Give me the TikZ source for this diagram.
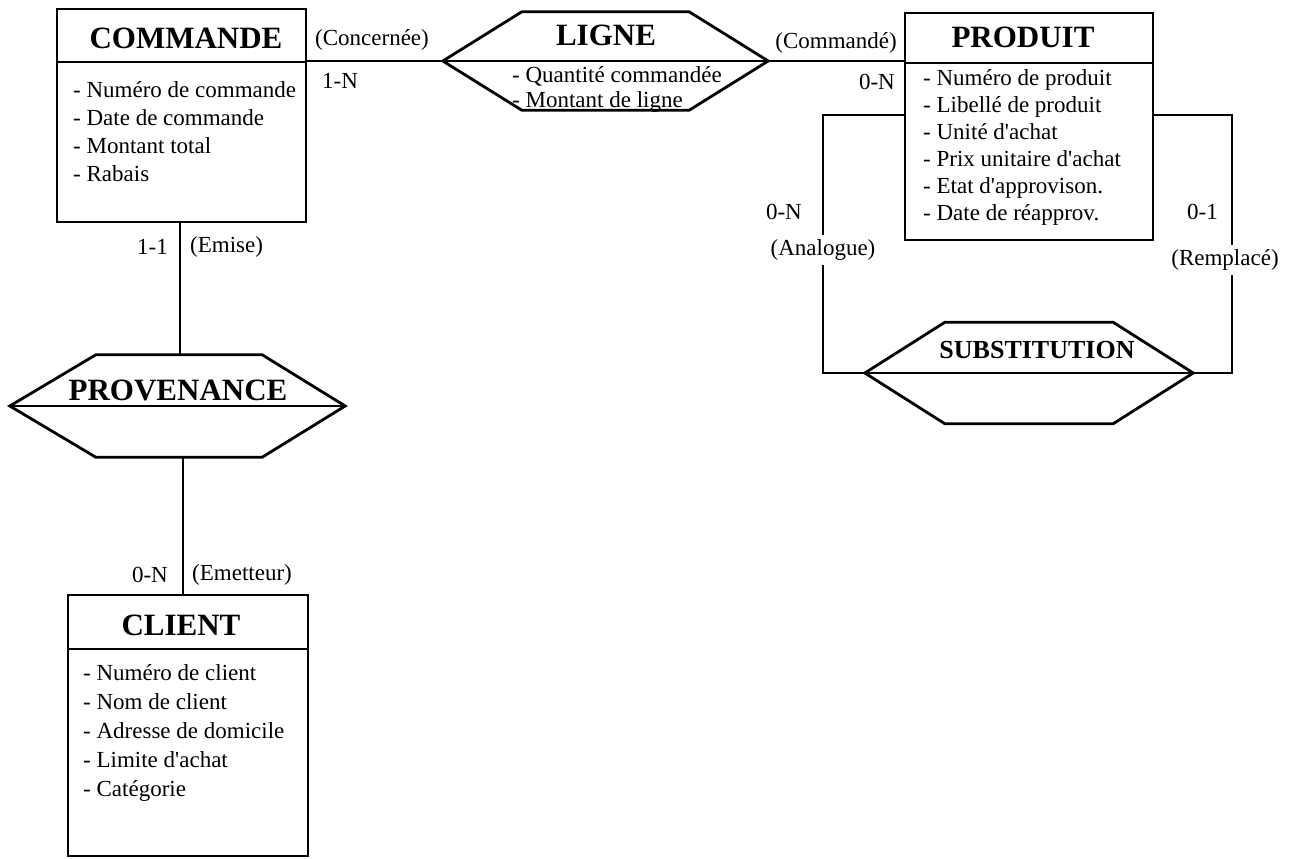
\documentclass[tikz,border=0pt]{standalone}
\usepackage{fontspec}
\setmainfont{Liberation Serif}
\newcommand{\ap}{\textquotesingle}
\begin{document}
\begin{tikzpicture}[x=1pt,y=-1pt,
  entity/.style={draw, line width=2.8pt, inner sep=0pt},
  relbox/.style={draw=none, inner sep=0pt},
  hexline/.style={line width=2.8pt, line join=miter},
  sepline/.style={line width=2.6pt},
  conn/.style={line width=2.4pt},
  title/.style={font=\fontsize{31}{36}\selectfont\bfseries, inner sep=0pt},
  subtitle/.style={font=\fontsize{26}{30}\selectfont\bfseries, inner sep=0pt},
  attr/.style={font=\fontsize{23}{27}\selectfont, inner sep=0pt, anchor=base west},
  lbl/.style={font=\fontsize{23}{27}\selectfont, inner sep=0pt},
  gaplbl/.style={font=\fontsize{23}{27}\selectfont, fill=white, inner xsep=1pt, inner ysep=5pt},
]
\fill[white] (0,0) rectangle (1298,859);
\useasboundingbox (0,0) rectangle (1298,859);

% ---------- entities ----------
\node[entity, minimum width=249pt, minimum height=213pt] (commande) at (181.5,115.5) {};
\node[entity, minimum width=248pt, minimum height=227pt] (produit) at (1029,126.5) {};
\node[entity, minimum width=240pt, minimum height=261pt] (client) at (188,725.5) {};

\coordinate (cmdsep) at (0,62);
\coordinate (prdsep) at (0,63);
\coordinate (clisep) at (0,649);
\draw[sepline] (commande.west |- cmdsep) -- (commande.east |- cmdsep);
\draw[sepline] (produit.west |- prdsep) -- (produit.east |- prdsep);
\draw[sepline] (client.west |- clisep) -- (client.east |- clisep);

\node[title] (commande-t) at (186,38) {COMMANDE};
\node[title] (produit-t) at (1023,37) {PRODUIT};
\node[title] (client-t) at (181,625) {CLIENT};

\foreach \t [count=\i] in {- Numéro de commande, - Date de commande, - Montant total, - Rabais}
  \node[attr] (commande-a\i) at (73,{97+28.3*(\i-1)}) {\t};
\foreach \t [count=\i] in {- Numéro de produit, - Libellé de produit, - Unité d\ap achat,
    - Prix unitaire d\ap achat, - Etat d\ap approvison., - Date de réapprov.}
  \node[attr] (produit-a\i) at (923,{85+27*(\i-1)}) {\t};
\foreach \t [count=\i] in {- Numéro de client, - Nom de client, - Adresse de domicile,
    - Limite d\ap achat, - Catégorie}
  \node[attr] (client-a\i) at (83,{680+29*(\i-1)}) {\t};

% ---------- relationships (hexagons) ----------
\node[relbox, minimum width=325pt, minimum height=98pt] (ligne) at (605.5,61) {};
\node[relbox, minimum width=328pt, minimum height=101pt] (subst) at (1029,373) {};
\node[relbox, minimum width=335pt, minimum height=102pt] (prov) at (177.5,406) {};

% connectors
\draw[conn] (commande.east |- ligne.west) -- (ligne.west);
\draw[conn] (ligne.east) -- (produit.west |- ligne.east);

\coordinate (emitx) at (180,0);
\coordinate (emetx) at (183,0);
\draw[conn] (commande.south -| emitx) -- (prov.north -| emitx);
\draw[conn] (prov.south -| emetx) -- (client.north -| emetx);

\coordinate (loopL) at (823,115);
\coordinate (loopR) at (1232,115);
\draw[conn] (produit.west |- loopL) -- (loopL) |- (subst.west);
\draw[conn] (produit.east |- loopR) -- (loopR) |- (subst.east);

\draw[hexline] (ligne.west) -- ([xshift=79pt]ligne.north west) -- ([xshift=-79pt]ligne.north east)
  -- (ligne.east) -- ([xshift=-79pt]ligne.south east) -- ([xshift=79pt]ligne.south west) -- cycle;
\draw[hexline] (ligne.west) -- (ligne.east);

\draw[hexline] (subst.west) -- ([xshift=80pt]subst.north west) -- ([xshift=-80pt]subst.north east)
  -- (subst.east) -- ([xshift=-80pt]subst.south east) -- ([xshift=80pt]subst.south west) -- cycle;
\draw[hexline] (subst.west) -- (subst.east);

\draw[hexline] (prov.west) -- ([xshift=86pt]prov.north west) -- ([xshift=-83pt]prov.north east)
  -- (prov.east) -- ([xshift=-83pt]prov.south east) -- ([xshift=86pt]prov.south west) -- cycle;
\draw[hexline] (prov.west) -- (prov.east);

\node[title] (ligne-t) at (606,35) {LIGNE};
\node[subtitle] (subst-t) at (1037,350) {SUBSTITUTION};
\node[title] (prov-t) at (178,390) {PROVENANCE};

\node[attr] (ligne-a1) at (512,82) {- Quantité commandée};
\node[attr] (ligne-a2) at (512,107) {- Montant de ligne};

% ---------- roles and cardinalities ----------
\node[lbl, anchor=west] (r-concernee) at (315,40) {(Concernée)};
\node[lbl, anchor=west] (c-cmd) at (322,81) {1-N};
\node[lbl, anchor=east] (r-commande) at (897,43) {(Commandé)};
\node[lbl, anchor=east] (c-prd) at (895,82) {0-N};
\node[lbl, anchor=east] (c-emise) at (168,247) {1-1};
\node[lbl, anchor=west] (r-emise) at (190,247) {(Emise)};
\node[lbl, anchor=east] (c-emet) at (168,575) {0-N};
\node[lbl, anchor=west] (r-emet) at (192,575) {(Emetteur)};
\node[lbl, anchor=east] (c-analog) at (802,212) {0-N};
\node[gaplbl] (r-analog) at (823,250) {(Analogue)};
\node[lbl, anchor=east] (c-rempl) at (1218,212) {0-1};
\node[gaplbl] (r-rempl) at (1225,260) {(Remplacé)};
\end{tikzpicture}
\end{document}
